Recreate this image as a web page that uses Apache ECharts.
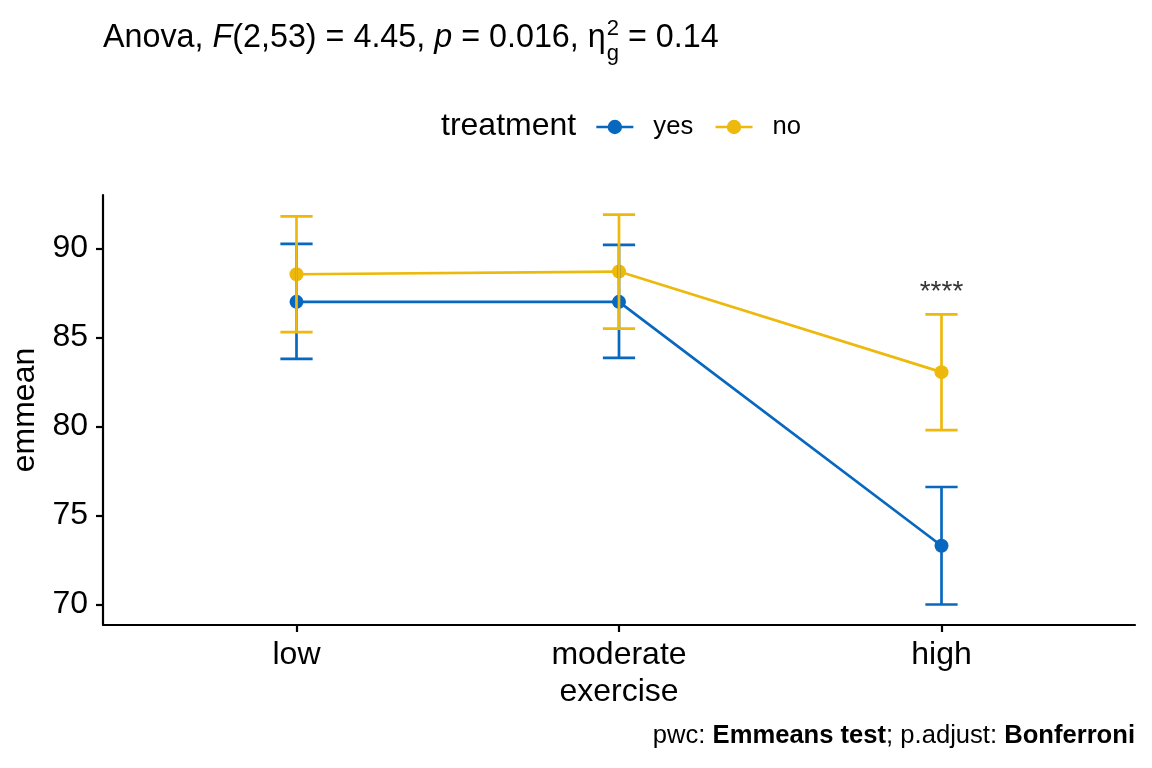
<!DOCTYPE html>
<html>
<head>
<meta charset="utf-8">
<style>
  html, body { margin: 0; padding: 0; background: #fff; }
  #main { width: 1152px; height: 768px; }
</style>
<script src="https://cdn.jsdelivr.net/npm/echarts@6/dist/echarts.min.js"></script>
</head>
<body>
<div id="main"></div>
<script>
// categories on x (exercise level)
var categories = ['low', 'moderate', 'high'];
var catPos = [1, 2, 3];

// treatment = yes
var yesMean = [87.0, 87.0, 73.3];
var yesLow = [83.8, 83.85, 70.0];
var yesHigh = [90.25, 90.2, 76.6];

// treatment = no
var noMean = [88.55, 88.7, 83.05];
var noLow = [85.3, 85.5, 79.8];
var noHigh = [91.8, 91.9, 86.3];

// significance labels per category
var sigLabels = ['', '', '****'];
var sigY = [null, null, 86.75];

var yTicks = [70, 75, 80, 85, 90];

var blue = '#0868C0';
var yellow = '#EDB90C';
var font = 'Liberation Sans, Arial, Helvetica, sans-serif';

function pts(means) {
    return catPos.map(function(x, i) { return [x, means[i]]; });
}
function bars(lo, hi) {
    return catPos.map(function(x, i) { return [x, lo[i], hi[i]]; });
}

function errRender(color) {
    return function(params, api) {
        var x = api.value(0);
        var lo = api.coord([x, api.value(1)]);
        var hi = api.coord([x, api.value(2)]);
        var hw = api.size([0.1, 0])[0] / 2;
        var st = { stroke: color, lineWidth: 2.7 };
        return {
            type: 'group',
            children: [
                { type: 'line', shape: { x1: lo[0], y1: lo[1], x2: hi[0], y2: hi[1] }, style: st },
                { type: 'line', shape: { x1: hi[0] - hw, y1: hi[1], x2: hi[0] + hw, y2: hi[1] }, style: st },
                { type: 'line', shape: { x1: lo[0] - hw, y1: lo[1], x2: lo[0] + hw, y2: lo[1] }, style: st }
            ]
        };
    };
}

// title pieces measured so the subscript / superscript line up
var cv = document.createElement('canvas').getContext('2d');
function tw(t, f) { cv.font = f; return cv.measureText(t).width; }
var TS = 32.3;
var fN = TS + 'px ' + font;
var fI = 'italic ' + TS + 'px ' + font;
var fS = '22px ' + font;
var runs = [
    { t: 'Anova, ', f: fN },
    { t: 'F', f: fI },
    { t: '(2,53) = 4.45, ', f: fN },
    { t: 'p', f: fI },
    { t: ' = 0.016, \u03B7', f: fN }
];
var titleEls = [];
var tx = 103, tBase = 52;
runs.forEach(function(r) {
    titleEls.push({ type: 'text', left: tx, top: tBase - TS * 0.93, style: { text: r.t, font: r.f, fill: '#000' } });
    tx += tw(r.t, r.f);
});
tx += 1;
titleEls.push({ type: 'text', left: tx, top: tBase - 9, style: { text: 'g', font: fS, fill: '#000' } });
titleEls.push({ type: 'text', left: tx, top: tBase - 34, style: { text: '2', font: fS, fill: '#000' } });
tx += tw('g', fS);
titleEls.push({ type: 'text', left: tx, top: tBase - TS * 0.93, style: { text: ' = 0.14', font: fN, fill: '#000' } });

var myChart = echarts.init(document.getElementById('main'));
var option = {
    animation: false,
    textStyle: { fontFamily: font },
    grid: { left: 103, right: 17, top: 195, bottom: 143, containLabel: false, outerBoundsMode: 'none' },
    legend: {
        left: 595,
        top: 114,
        padding: 0,
        itemWidth: 37,
        itemHeight: 18,
        itemGap: 21,
        data: ['yes', 'no'],
        lineStyle: { width: 2.7 },
        textStyle: { fontSize: 25.6, color: '#000', padding: [0, 0, 0, 15] }
    },
    xAxis: {
        type: 'value',
        min: 0.4,
        max: 3.6,
        name: 'exercise',
        nameLocation: 'middle',
        nameGap: 49,
        nameTextStyle: { fontSize: 32, color: '#000' },
        splitLine: { show: false },
        axisLine: { lineStyle: { color: '#000', width: 2.2 } },
        axisTick: { show: true, length: 7, customValues: catPos, lineStyle: { color: '#000', width: 2.2 } },
        axisLabel: {
            customValues: catPos,
            fontSize: 32,
            color: '#000',
            margin: 14,
            formatter: function(v) { return categories[Math.round(v) - 1]; }
        }
    },
    yAxis: {
        type: 'value',
        min: 68.85,
        max: 93.0,
        name: 'emmean',
        nameLocation: 'middle',
        nameGap: 57,
        nameTextStyle: { fontSize: 32, color: '#000' },
        splitLine: { show: false },
        axisLine: { show: true, lineStyle: { color: '#000', width: 2.2 } },
        axisTick: { show: true, length: 7, customValues: yTicks, lineStyle: { color: '#000', width: 2.2 } },
        axisLabel: { customValues: yTicks, fontSize: 32, color: '#000', margin: 15 }
    },
    series: [
        {
            name: 'yes', type: 'line', data: pts(yesMean), color: blue,
            symbol: 'circle', symbolSize: 14, lineStyle: { width: 2.7 }, z: 2
        },
        {
            name: 'no', type: 'line', data: pts(noMean), color: yellow,
            symbol: 'circle', symbolSize: 14, lineStyle: { width: 2.7 }, z: 2
        },
        {
            type: 'custom', data: bars(yesLow, yesHigh), renderItem: errRender(blue), z: 3,
            encode: { x: 0, y: [1, 2] }
        },
        {
            type: 'custom', data: bars(noLow, noHigh), renderItem: errRender(yellow), z: 3,
            encode: { x: 0, y: [1, 2] }
        },
        {
            type: 'scatter', symbolSize: 0, z: 4,
            data: catPos.map(function(x, i) { return [x, sigY[i], sigLabels[i]]; }).filter(function(d) { return d[2]; }),
            label: {
                show: true, position: 'top', distance: 0, fontSize: 28, color: '#000',
                textBorderWidth: 0,
                formatter: function(p) { return p.data[2]; }
            }
        }
    ],
    graphic: titleEls.concat([
        { type: 'text', left: 441, top: 110, style: { text: 'treatment', font: '32px ' + font, fill: '#000' } },
        {
            type: 'text', right: 17, top: 723,
            style: {
                text: '{n|pwc: }{b|Emmeans test}{n|; p.adjust: }{b|Bonferroni}',
                rich: {
                    n: { fontSize: 25.6, fontFamily: font, color: '#000' },
                    b: { fontSize: 25.6, fontFamily: font, fontWeight: 'bold', color: '#000' }
                }
            }
        }
    ])
};
myChart.setOption(option);
</script>
</body>
</html>
